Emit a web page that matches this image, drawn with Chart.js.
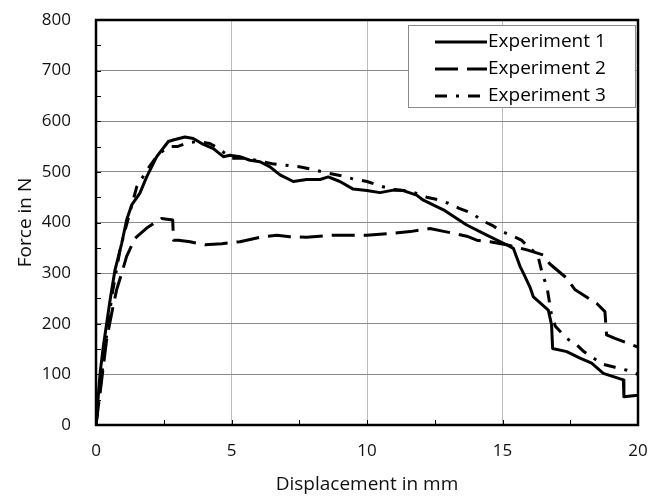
<!DOCTYPE html>
<html>
<head>
<meta charset="utf-8">
<title>Force vs displacement</title>
<script src="https://cdn.jsdelivr.net/npm/chart.js@4.4.1/dist/chart.umd.min.js"></script>
<style>
  html, body { margin: 0; padding: 0; background: #fff; }
</style>
</head>
<body>
<canvas id="forceChart" width="654" height="498"></canvas>
<script>
// Displacement (mm) and force (N) for each test run
const exp1Disp = [0, 0.15, 0.27, 0.52, 0.70, 0.95, 1.13, 1.32, 1.62, 1.87, 2.24, 2.67, 2.85, 3.28, 3.59, 3.90,
  4.33, 4.70, 4.94, 5.31, 5.68, 6.05, 6.42, 6.79, 7.28, 7.77, 8.27, 8.57, 9.00, 9.49, 9.99, 10.48, 10.97,
  11.34, 11.83, 12.08, 12.82, 13.68, 14.42, 15.15, 15.40, 15.65, 15.77, 16.01, 16.14, 16.69, 16.81, 16.85,
  17.37, 17.86, 18.29, 18.72, 19.46, 19.48, 20.0];
const exp1Force = [0, 102, 155, 247, 306, 359, 405, 435, 458, 490, 530, 560, 563, 569, 566, 556,
  546, 530, 533, 530, 523, 520, 510, 494, 481, 485, 485, 490, 481, 466, 463, 459, 464,
  463, 454, 444, 425, 395, 375, 356, 349, 313, 300, 273, 253, 227, 198, 151,
  145, 132, 122, 102, 89, 56, 59];

const exp2Disp = [0, 0.2, 0.39, 0.58, 0.76, 0.95, 1.13, 1.44, 1.87, 2.42, 2.83, 2.86, 3.04, 3.47, 4.02,
  4.64, 5.31, 6.17, 6.67, 7.16, 7.77, 8.76, 9.99, 10.97, 11.59, 12.32, 12.88, 13.68, 14.05, 14.54,
  15.15, 15.90, 16.50, 16.75, 17.37, 17.68, 18.48, 18.78, 18.84, 19.15, 20.0];
const exp2Force = [0, 85, 168, 221, 267, 300, 333, 369, 389, 408, 405, 365, 365, 362, 356,
  358, 362, 372, 375, 372, 371, 375, 375, 379, 382, 388, 382, 373, 365, 362,
  356, 346, 336, 318, 290, 267, 240, 224, 178, 171, 154];

const exp3Disp = [0, 0.3, 0.6, 0.9, 1.2, 1.5, 1.9, 2.3, 2.7, 3.0, 3.4, 3.8, 4.2, 4.5, 5.0, 5.5, 6.0,
  6.5, 7.0, 7.5, 8.0, 8.5, 9.0, 9.5, 10.0, 10.5, 11.0, 11.6, 12.2, 12.7, 13.0, 13.4, 13.9, 14.2,
  14.6, 15.0, 15.3, 15.7, 16.0, 16.3, 16.45, 16.65, 16.8, 16.95, 17.37, 17.75, 18.0, 18.7, 19.15, 19.6, 20.0];
const exp3Force = [0, 140, 260, 350, 410, 470, 505, 535, 550, 550, 558, 560, 556, 547, 527, 527, 522,
  516, 513, 510, 505, 498, 493, 486, 481, 472, 465, 462, 450, 444, 438, 428, 418, 405,
  395, 382, 375, 365, 350, 336, 303, 270, 220, 195, 171, 158, 145, 120, 114, 108, 100];

const seriesLabels = ["Experiment 1", "Experiment 2", "Experiment 3"];

const FONT = "'Open Sans', Lato, sans-serif";

function toPoints(xs, ys) {
  return xs.map((x, i) => ({ x: x, y: ys[i] }));
}

// inward minor ticks, black frame and the boxed legend in the top right corner
const framePlugin = {
  id: "frameAndLegend",
  afterDatasetsDraw(chart) {
    const { ctx, chartArea: a, scales } = chart;
    ctx.save();

    ctx.strokeStyle = "#000";
    ctx.lineWidth = 1;
    for (let v = 0; v <= 20; v += 2.5) {
      const px = Math.round(scales.x.getPixelForValue(v)) + 0.5;
      ctx.beginPath();
      ctx.moveTo(px, a.bottom);
      ctx.lineTo(px, a.bottom - 5);
      ctx.stroke();
    }
    for (let v = 0; v <= 800; v += 50) {
      const py = Math.round(scales.y.getPixelForValue(v)) + 0.5;
      ctx.beginPath();
      ctx.moveTo(a.left, py);
      ctx.lineTo(a.left + 5, py);
      ctx.stroke();
    }

    ctx.lineWidth = 2.5;
    ctx.strokeRect(a.left, a.top, a.right - a.left, a.bottom - a.top);

    // legend
    const box = { x: 408, y: 25, w: 227, h: 82 };
    ctx.fillStyle = "#fff";
    ctx.fillRect(box.x, box.y, box.w, box.h);
    ctx.strokeStyle = "#8a8a8a";
    ctx.lineWidth = 1;
    ctx.strokeRect(box.x + 0.5, box.y + 0.5, box.w, box.h);

    ctx.font = "19px " + FONT;
    ctx.textBaseline = "middle";
    ctx.textAlign = "left";
    chart.data.datasets.forEach((ds, i) => {
      const rowY = 42 + i * 27;
      ctx.strokeStyle = "#000";
      ctx.lineWidth = ds.borderWidth;
      ctx.setLineDash(ds.borderDash || []);
      ctx.beginPath();
      ctx.moveTo(435, rowY);
      ctx.lineTo(487, rowY);
      ctx.stroke();
      ctx.setLineDash([]);
      ctx.fillStyle = "#000";
      ctx.fillText(ds.label, 488, rowY);
    });

    ctx.restore();
  }
};

const ctx = document.getElementById("forceChart").getContext("2d");

new Chart(ctx, {
  type: "line",
  data: {
    datasets: [
      {
        label: seriesLabels[0],
        data: toPoints(exp1Disp, exp1Force),
        borderColor: "#000",
        borderWidth: 3,
        borderDash: []
      },
      {
        label: seriesLabels[1],
        data: toPoints(exp2Disp, exp2Force),
        borderColor: "#000",
        borderWidth: 3,
        borderDash: [23, 9]
      },
      {
        label: seriesLabels[2],
        data: toPoints(exp3Disp, exp3Force),
        borderColor: "#000",
        borderWidth: 3,
        borderDash: [12, 9, 3, 9]
      }
    ]
  },
  options: {
    responsive: false,
    animation: false,
    layout: { padding: { top: 20, right: 16, bottom: 0, left: 0 } },
    elements: {
      point: { radius: 0, hoverRadius: 0 },
      line: { tension: 0, fill: false, borderCapStyle: "butt", borderJoinStyle: "round" }
    },
    plugins: {
      legend: { display: false },
      tooltip: { enabled: false }
    },
    scales: {
      x: {
        type: "linear",
        min: 0,
        max: 20,
        afterFit: (scale) => {
          scale.height = 73;
          scale.paddingLeft = 0;
          scale.paddingRight = 0;
        },
        border: { display: false },
        grid: { color: "#bcbcbc", lineWidth: 1, drawTicks: false },
        ticks: {
          stepSize: 5,
          padding: 16,
          color: "#111",
          font: { family: FONT, size: 17 }
        },
        title: {
          display: true,
          text: "Displacement in mm",
          color: "#111",
          font: { family: FONT, size: 19 },
          padding: { top: 0, bottom: 2 }
        }
      },
      y: {
        min: 0,
        max: 800,
        afterFit: (scale) => {
          scale.width = 96;
          scale.paddingTop = 0;
          scale.paddingBottom = 0;
        },
        border: { display: false },
        grid: { color: "#8a8a8a", lineWidth: 1, drawTicks: false },
        ticks: {
          stepSize: 100,
          padding: 25,
          color: "#111",
          font: { family: FONT, size: 17 }
        },
        title: {
          display: true,
          text: "Force in N",
          color: "#111",
          font: { family: FONT, size: 19 },
          padding: { top: 14, bottom: 0 }
        }
      }
    }
  },
  plugins: [framePlugin]
});
</script>
</body>
</html>
